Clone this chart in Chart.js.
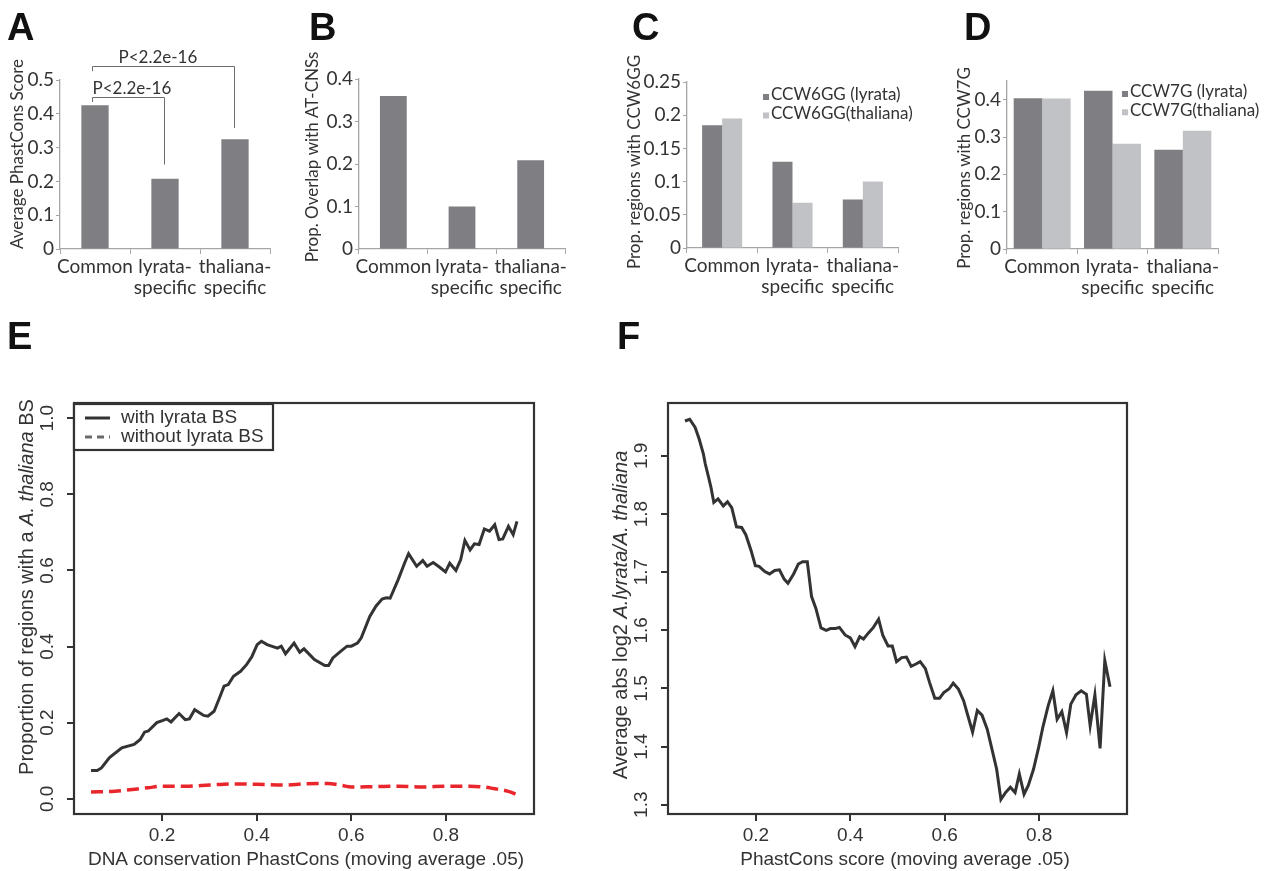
<!DOCTYPE html>
<html>
<head>
<meta charset="utf-8">
<script src="https://cdn.jsdelivr.net/npm/chart.js@4.4.0/dist/chart.umd.min.js"></script>
<style>
  body { margin: 0; background: #fff; }
  #wrap { position: relative; width: 1269px; height: 871px; overflow: hidden; background: #fff; }
  canvas { position: absolute; }
  .tag { position: absolute; font: bold 38px "Liberation Sans", Arial, sans-serif; line-height: 38px; color: #111; }
</style>
</head>
<body>
<div id="wrap">
  <canvas id="chartA"></canvas>
  <canvas id="chartB"></canvas>
  <canvas id="chartC"></canvas>
  <canvas id="chartD"></canvas>
  <canvas id="chartE"></canvas>
  <canvas id="chartF"></canvas>
  <div class="tag" style="left:7px;top:8px">A</div>
  <div class="tag" style="left:309px;top:8px">B</div>
  <div class="tag" style="left:632px;top:8px">C</div>
  <div class="tag" style="left:964px;top:8px">D</div>
  <div class="tag" style="left:7px;top:317px">E</div>
  <div class="tag" style="left:617px;top:317px">F</div>
</div>
<script>
// ---- data: bar panels (A-D)
const categories = ['Common', ['lyrata-', 'specific'], ['thaliana-', 'specific']]
const phastConsScore = [0.425, 0.208, 0.325]
const overlapATCNS = [0.36, 0.1, 0.209]
const ccw6ggLyrata = [0.185, 0.13, 0.073]
const ccw6ggThaliana = [0.195, 0.068, 0.1]
const ccw7gLyrata = [0.404, 0.424, 0.266]
const ccw7gThaliana = [0.403, 0.282, 0.317]

// ---- data: panel E (proportion with A. thaliana BS vs PhastCons)
const withBsX = [0.05, 0.063, 0.072, 0.089, 0.115, 0.141, 0.154, 0.163, 0.171, 0.189,
  0.202, 0.21, 0.219, 0.236, 0.249, 0.258, 0.269, 0.288, 0.297, 0.31,
  0.323, 0.331, 0.34, 0.351, 0.366, 0.379, 0.39, 0.401, 0.41, 0.422,
  0.444, 0.452, 0.461, 0.479, 0.491, 0.5, 0.522, 0.544, 0.552, 0.561,
  0.578, 0.591, 0.6, 0.613, 0.621, 0.639, 0.652, 0.665, 0.674, 0.682,
  0.699, 0.713, 0.721, 0.738, 0.751, 0.76, 0.773, 0.786, 0.799, 0.808,
  0.821, 0.831, 0.84, 0.851, 0.86, 0.87, 0.881, 0.892, 0.903, 0.912,
  0.92, 0.932, 0.942, 0.95]
const withBsY = [0.074, 0.074, 0.081, 0.108, 0.134, 0.143, 0.156, 0.175, 0.178, 0.2,
  0.206, 0.21, 0.202, 0.224, 0.208, 0.21, 0.234, 0.219, 0.217, 0.23,
  0.27, 0.296, 0.3, 0.322, 0.335, 0.353, 0.374, 0.405, 0.414, 0.405,
  0.396, 0.401, 0.381, 0.409, 0.385, 0.394, 0.366, 0.35, 0.35, 0.37,
  0.388, 0.401, 0.401, 0.409, 0.423, 0.479, 0.506, 0.525, 0.528, 0.527,
  0.576, 0.621, 0.644, 0.611, 0.626, 0.611, 0.621, 0.609, 0.596, 0.619,
  0.6, 0.628, 0.679, 0.654, 0.67, 0.668, 0.709, 0.703, 0.72, 0.681,
  0.683, 0.716, 0.694, 0.729]
const withoutBsX = [0.05, 0.1, 0.17, 0.2, 0.25, 0.3, 0.35, 0.4, 0.46, 0.5, 0.55,
  0.58, 0.6, 0.65, 0.7, 0.75, 0.8, 0.85, 0.88, 0.9, 0.93, 0.95]
const withoutBsY = [0.018, 0.02, 0.029, 0.033, 0.033, 0.036, 0.039, 0.038, 0.036, 0.039, 0.04,
  0.035, 0.031, 0.032, 0.033, 0.031, 0.033, 0.033, 0.031, 0.027, 0.02, 0.011]

// ---- data: panel F (average abs log2 ratio vs PhastCons)
const log2X = [0.05, 0.06, 0.0715, 0.08, 0.089, 0.093, 0.1, 0.105, 0.111, 0.12,
  0.131, 0.14, 0.149, 0.159, 0.17, 0.179, 0.19, 0.199, 0.207, 0.219,
  0.229, 0.24, 0.25, 0.26, 0.268, 0.28, 0.29, 0.299, 0.309, 0.318,
  0.327, 0.338, 0.349, 0.358, 0.369, 0.377, 0.389, 0.4, 0.41, 0.42,
  0.428, 0.439, 0.449, 0.46, 0.469, 0.48, 0.489, 0.498, 0.509, 0.519,
  0.529, 0.539, 0.548, 0.559, 0.568, 0.579, 0.589, 0.598, 0.609, 0.618,
  0.629, 0.64, 0.648, 0.659, 0.669, 0.679, 0.69, 0.699, 0.71, 0.719,
  0.729, 0.739, 0.749, 0.758, 0.768, 0.777, 0.788, 0.799, 0.808, 0.819,
  0.829, 0.838, 0.848, 0.858, 0.867, 0.878, 0.889, 0.9, 0.908, 0.918,
  0.929, 0.939, 0.95]
const log2Y = [1.96, 1.963, 1.949, 1.929, 1.903, 1.886, 1.863, 1.846, 1.82, 1.826,
  1.814, 1.821, 1.811, 1.778, 1.777, 1.764, 1.737, 1.711, 1.71, 1.701,
  1.697, 1.703, 1.704, 1.688, 1.681, 1.697, 1.714, 1.718, 1.718, 1.658,
  1.638, 1.604, 1.6, 1.603, 1.603, 1.605, 1.592, 1.587, 1.572, 1.589,
  1.585, 1.596, 1.605, 1.619, 1.591, 1.573, 1.573, 1.546, 1.553, 1.554,
  1.538, 1.542, 1.546, 1.534, 1.51, 1.483, 1.483, 1.493, 1.499, 1.509,
  1.499, 1.479, 1.456, 1.425, 1.462, 1.454, 1.43, 1.399, 1.361, 1.309,
  1.321, 1.33, 1.321, 1.353, 1.318, 1.333, 1.361, 1.399, 1.434, 1.47,
  1.496, 1.447, 1.46, 1.424, 1.473, 1.489, 1.496, 1.49, 1.436, 1.489,
  1.397, 1.548, 1.503]

// ---- tick labels for the R-style panels
const phastTicks = [0.2, 0.4, 0.6, 0.8]
const proportionTicks = [0, 0.2, 0.4, 0.6, 0.8, 1.0]
const log2Ticks = [1.3, 1.4, 1.5, 1.6, 1.7, 1.8, 1.9]

// significance brackets in panel A (category index, bar value units)
const pBrackets = [
  { from: 0, to: 1, top: 0.45, fromEnd: 0.435, toEnd: 0.25, text: 'P<2.2e-16', dx: 0 },
  { from: 0, to: 2, top: 0.541, fromEnd: 0.526, toEnd: 0.358, text: 'P<2.2e-16', dx: 26 }
]

const AXIS = '#a6a6a6'
const TXT = '#333333'
const DARK = '#7f7f83'
const LIGHT = '#c1c2c5'
const BOX = '#333333'
const BAR_FONT = 'Lato'
const R_FONT = '"Liberation Sans", Arial, sans-serif'
const BAR_H = 320

function place(id, left, top, width, height) {
  const c = document.getElementById(id)
  c.width = width
  c.height = height
  c.style.left = left + 'px'
  c.style.top = top + 'px'
  return c
}

// free text drawn in page coordinates, parts can be italic
function textPlugin(ox, oy, items) {
  return {
    id: 'texts',
    afterDraw(chart) {
      const ctx = chart.ctx
      items.forEach(it => {
        const parts = Array.isArray(it.t) ? it.t : [[it.t, false]]
        const fontOf = p => (p[1] ? 'italic ' : '') + it.size + 'px ' + it.family
        ctx.save()
        ctx.translate(it.x - ox, it.y - oy)
        if (it.rot) ctx.rotate(-Math.PI / 2)
        ctx.fillStyle = TXT
        ctx.textBaseline = 'middle'
        ctx.textAlign = 'left'
        let w = 0
        parts.forEach(p => { ctx.font = fontOf(p); w += ctx.measureText(p[0]).width })
        let x = it.align === 'left' ? 0 : -w / 2
        parts.forEach(p => {
          ctx.font = fontOf(p)
          ctx.fillText(p[0], x, 0)
          x += ctx.measureText(p[0]).width
        })
        ctx.restore()
      })
    }
  }
}

function swatchLegend(ox, x, y0, gap) {
  return {
    id: 'swatches',
    afterDraw(chart) {
      const ctx = chart.ctx
      ctx.save()
      chart.data.datasets.forEach((ds, i) => {
        const y = y0 + i * gap
        ctx.fillStyle = ds.backgroundColor
        ctx.fillRect(x - ox, y - 1, 6, 6)
        ctx.fillStyle = TXT
        ctx.font = '17px ' + BAR_FONT
        ctx.textBaseline = 'middle'
        ctx.textAlign = 'left'
        ctx.fillText(ds.label, x - ox + 8, y)
      })
      ctx.restore()
    }
  }
}

const bracketPlugin = {
  id: 'brackets',
  afterDraw(chart) {
    const { ctx, scales: { x, y } } = chart
    ctx.save()
    ctx.strokeStyle = '#6d6d6d'
    ctx.lineWidth = 1
    pBrackets.forEach(b => {
      const x1 = Math.round(x.getPixelForValue(b.from)) - 2.5
      const x2 = Math.round(x.getPixelForValue(b.to)) - 0.5
      const yt = Math.round(y.getPixelForValue(b.top)) + 0.5
      ctx.beginPath()
      ctx.moveTo(x1, y.getPixelForValue(b.fromEnd))
      ctx.lineTo(x1, yt)
      ctx.lineTo(x2, yt)
      ctx.lineTo(x2, y.getPixelForValue(b.toEnd))
      ctx.stroke()
      ctx.fillStyle = TXT
      ctx.font = '17px ' + BAR_FONT
      ctx.textBaseline = 'middle'
      ctx.textAlign = 'left'
      ctx.fillText(b.text, x1 + b.dx, yt - 9)
    })
    ctx.restore()
  }
}

function barOptions(area, left, width, yMax, step, labelStep) {
  return {
    responsive: false,
    animation: false,
    layout: { padding: { left: 0, top: area.t, right: width - (area.r - left), bottom: BAR_H - area.b - 62 } },
    plugins: { legend: { display: false }, tooltip: { enabled: false } },
    scales: {
      x: {
        grid: { offset: true, drawOnChartArea: false, tickLength: 5, color: AXIS },
        border: { color: AXIS, width: 1.3 },
        ticks: { font: { family: BAR_FONT, size: 19, lineHeight: 1.08 }, color: TXT, padding: 3, maxRotation: 0, autoSkip: false },
        afterFit: s => { s.height = 62 }
      },
      y: {
        min: 0,
        max: yMax,
        grid: { drawOnChartArea: false, tickLength: 4, color: AXIS },
        border: { color: AXIS, width: 1.3 },
        ticks: {
          stepSize: step,
          padding: 2,
          font: { family: BAR_FONT, size: 19 },
          color: TXT,
          callback: v => {
            const r = Math.round(v / labelStep * 1000) / 1000
            return Number.isInteger(r) ? String(+v.toFixed(2)) : ''
          }
        },
        afterFit: s => { s.width = area.l - left }
      }
    }
  }
}

function rOptions(area, left, width, xr, yr, xTicks, yTicks) {
  const tickScale = (vals) => s => { s.ticks = vals.map(v => ({ value: v })) }
  return {
    responsive: false,
    animation: false,
    layout: { padding: { left: 0, top: area.t - 380, right: width - (area.r - left), bottom: 0 } },
    plugins: { legend: { display: false }, tooltip: { enabled: false } },
    elements: { point: { radius: 0 }, line: { tension: 0 } },
    scales: {
      x: {
        type: 'linear', min: xr[0], max: xr[1],
        afterBuildTicks: tickScale(xTicks),
        ticks: { display: false },
        grid: { drawOnChartArea: false, tickLength: 7, color: BOX, lineWidth: 2 },
        border: { display: false },
        afterFit: s => { s.height = 491 - (area.b - 380) }
      },
      y: {
        min: yr[0], max: yr[1],
        afterBuildTicks: tickScale(yTicks),
        ticks: { display: false },
        grid: { drawOnChartArea: false, tickLength: 7, color: BOX, lineWidth: 2 },
        border: { display: false },
        afterFit: s => { s.width = area.l - left }
      }
    }
  }
}

// box + tick labels in R style
const rAxes = {
  id: 'rAxes',
  afterDraw(chart) {
    const { ctx, chartArea: a, scales: { x, y } } = chart
    ctx.save()
    ctx.strokeStyle = BOX
    ctx.lineWidth = 2.2
    ctx.strokeRect(a.left, a.top, a.right - a.left, a.bottom - a.top)
    ctx.fillStyle = TXT
    ctx.font = '19px ' + R_FONT
    ctx.textAlign = 'center'
    ctx.textBaseline = 'middle'
    x.ticks.forEach(t => ctx.fillText(t.value.toFixed(1), x.getPixelForValue(t.value), a.bottom + 22))
    y.ticks.forEach(t => {
      ctx.save()
      ctx.translate(a.left - 26, y.getPixelForValue(t.value))
      ctx.rotate(-Math.PI / 2)
      ctx.fillText(t.value.toFixed(1), 0, 0)
      ctx.restore()
    })
    ctx.restore()
  }
}

const eLegend = {
  id: 'eLegend',
  afterDraw(chart) {
    const ctx = chart.ctx
    const ox = 0, oy = 380
    ctx.save()
    ctx.fillStyle = '#fff'
    ctx.fillRect(74 - ox, 404 - oy, 199, 46)
    ctx.strokeStyle = BOX
    ctx.lineWidth = 2.2
    ctx.strokeRect(74 - ox, 404 - oy, 199, 46)
    chart.data.datasets.forEach((ds, i) => {
      const y = 418 + i * 19 - oy
      ctx.strokeStyle = ds.legendColor
      ctx.lineWidth = 3
      ctx.setLineDash(ds.borderDash ? [7, 5] : [])
      ctx.beginPath()
      ctx.moveTo(85 - ox, y)
      ctx.lineTo(110 - ox, y)
      ctx.stroke()
      ctx.setLineDash([])
      ctx.fillStyle = TXT
      ctx.font = '19px ' + R_FONT
      ctx.textBaseline = 'middle'
      ctx.textAlign = 'left'
      ctx.fillText(ds.label, 121 - ox, y)
    })
    ctx.restore()
  }
}

const xy = (xs, ys) => xs.map((v, i) => ({ x: v, y: ys[i] }))

// ---- Panel A
const areaA = { l: 60, t: 80, r: 270, b: 249 }
new Chart(place('chartA', 0, 0, 300, BAR_H), {
  type: 'bar',
  data: {
    labels: categories,
    datasets: [{ data: phastConsScore, backgroundColor: DARK, barPercentage: 0.39, categoryPercentage: 1 }]
  },
  options: barOptions(areaA, 0, 300, 0.5, 0.1, 0.1),
  plugins: [bracketPlugin, textPlugin(0, 0, [
    { t: 'Average PhastCons Score', x: 18, y: 154, rot: true, size: 17, family: BAR_FONT }
  ])]
})

// ---- Panel B
const areaB = { l: 359, t: 79, r: 565, b: 249 }
new Chart(place('chartB', 299, 0, 296, BAR_H), {
  type: 'bar',
  data: {
    labels: categories,
    datasets: [{ data: overlapATCNS, backgroundColor: DARK, barPercentage: 0.39, categoryPercentage: 1 }]
  },
  options: barOptions(areaB, 299, 296, 0.4, 0.05, 0.1),
  plugins: [textPlugin(299, 0, [
    { t: 'Prop. Overlap with AT-CNSs', x: 313, y: 157, rot: true, size: 17, family: BAR_FONT }
  ])]
})

// ---- Panel C
const areaC = { l: 687, t: 82, r: 898, b: 248 }
new Chart(place('chartC', 627, 0, 301, BAR_H), {
  type: 'bar',
  data: {
    labels: categories,
    datasets: [
      { label: 'CCW6GG (lyrata)', data: ccw6ggLyrata, backgroundColor: DARK, barPercentage: 1, categoryPercentage: 0.57 },
      { label: 'CCW6GG(thaliana)', data: ccw6ggThaliana, backgroundColor: LIGHT, barPercentage: 1, categoryPercentage: 0.57 }
    ]
  },
  options: barOptions(areaC, 627, 301, 0.25, 0.05, 0.05),
  plugins: [swatchLegend(627, 763, 95, 18.5), textPlugin(627, 0, [
    { t: 'Prop. regions with CCW6GG', x: 635, y: 162, rot: true, size: 17, family: BAR_FONT }
  ])]
})

// ---- Panel D
const areaD = { l: 1007, t: 81, r: 1218, b: 249 }
new Chart(place('chartD', 947, 0, 322, BAR_H), {
  type: 'bar',
  data: {
    labels: categories,
    datasets: [
      { label: 'CCW7G (lyrata)', data: ccw7gLyrata, backgroundColor: DARK, barPercentage: 1, categoryPercentage: 0.81 },
      { label: 'CCW7G(thaliana)', data: ccw7gThaliana, backgroundColor: LIGHT, barPercentage: 1, categoryPercentage: 0.81 }
    ]
  },
  options: barOptions(areaD, 947, 322, 0.45, 0.05, 0.1),
  plugins: [swatchLegend(947, 1122, 92, 18.3), textPlugin(947, 0, [
    { t: 'Prop. regions with CCW7G', x: 965, y: 168, rot: true, size: 17, family: BAR_FONT }
  ])]
})

// ---- Panel E
const areaE = { l: 74, t: 403, r: 534, b: 814 }
new Chart(place('chartE', 0, 380, 620, 491), {
  type: 'line',
  data: {
    datasets: [
      { label: 'with lyrata BS', data: xy(withBsX, withBsY), borderColor: '#333333', borderWidth: 3, legendColor: '#333333' },
      { label: 'without lyrata BS', data: xy(withoutBsX, withoutBsY), borderColor: '#e8262b', borderWidth: 3.5, borderDash: [12, 6], legendColor: '#6a6a6a', cubicInterpolationMode: 'monotone' }
    ]
  },
  options: rOptions(areaE, 0, 620, [0.014, 0.986], [-0.04, 1.04], phastTicks, proportionTicks),
  plugins: [rAxes, eLegend, textPlugin(0, 380, [
    { t: 'DNA conservation PhastCons (moving average .05)', x: 306, y: 860, size: 19, family: R_FONT },
    { t: [['Proportion of regions with a ', false], ['A. thaliana', true], [' BS', false]], x: 27, y: 587, rot: true, size: 20, family: R_FONT }
  ])]
})

// ---- Panel F
const areaF = { l: 668, t: 403, r: 1127, b: 814 }
new Chart(place('chartF', 600, 380, 669, 491), {
  type: 'line',
  data: {
    datasets: [
      { label: 'log2', data: xy(log2X, log2Y), borderColor: '#333333', borderWidth: 3 }
    ]
  },
  options: rOptions(areaF, 600, 669, [0.014, 0.986], [1.284, 1.991], phastTicks, log2Ticks),
  plugins: [rAxes, textPlugin(600, 380, [
    { t: 'PhastCons score (moving average .05)', x: 905, y: 860, size: 19, family: R_FONT },
    { t: [['Average abs log2 ', false], ['A.lyrata/A. thaliana', true]], x: 621, y: 615, rot: true, size: 20, family: R_FONT }
  ])]
})
</script>
</body>
</html>
